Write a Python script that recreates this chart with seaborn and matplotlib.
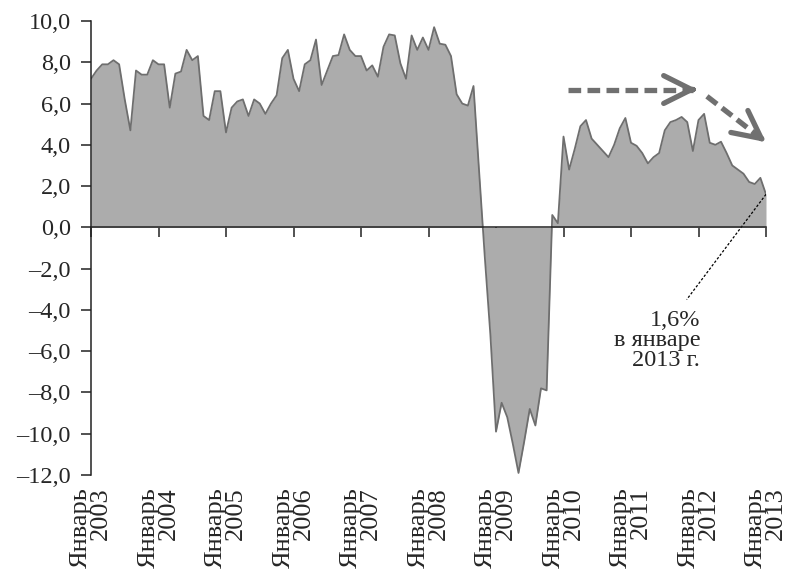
import numpy as np
import pandas as pd
import matplotlib
matplotlib.use("Agg")
import matplotlib.pyplot as plt
import seaborn as sns

# Monthly values, January 2003 .. January 2013 (121 points)
values = [
    7.2, 7.6, 7.9, 7.9, 8.1, 7.9, 6.2, 4.7, 7.6, 7.4, 7.4, 8.1,   # 2003
    7.9, 7.9, 5.8, 7.45, 7.55, 8.6, 8.1, 8.3, 5.4, 5.2, 6.6, 6.6,  # 2004
    4.6, 5.8, 6.1, 6.2, 5.4, 6.2, 6.0, 5.5, 6.0, 6.4, 8.2, 8.6,    # 2005
    7.2, 6.6, 7.9, 8.1, 9.1, 6.9, 7.6, 8.3, 8.35, 9.35, 8.6, 8.3,  # 2006
    8.3, 7.6, 7.85, 7.3, 8.75, 9.35, 9.3, 7.95, 7.2, 9.3, 8.6, 9.2,  # 2007
    8.6, 9.7, 8.9, 8.85, 8.3, 6.45, 6.0, 5.9, 6.85, 2.7, -1.4, -5.2,  # 2008
    -9.9, -8.5, -9.2, -10.5, -11.9, -10.4, -8.8, -9.6, -7.8, -7.9, 0.6, 0.2,  # 2009
    4.4, 2.8, 3.8, 4.9, 5.2, 4.3, 4.0, 3.7, 3.4, 4.0, 4.8, 5.3,    # 2010
    4.1, 3.95, 3.6, 3.1, 3.4, 3.6, 4.7, 5.1, 5.2, 5.35, 5.1, 3.7,  # 2011
    5.2, 5.5, 4.1, 4.0, 4.15, 3.6, 3.0, 2.8, 2.6, 2.2, 2.1, 2.4,   # 2012
    1.6,                                                           # 2013
]
years = list(range(2003, 2014))
tick_labels = [f"Январь\n{y}" for y in years]
note_text = "1,6%\nв январе\n2013 г."

df = pd.DataFrame({"month": np.arange(len(values)), "value": values})

sns.set_style("ticks")
plt.rcParams["font.family"] = ["Liberation Serif", "DejaVu Serif"]
plt.rcParams["font.size"] = 17.5

fill_col = "#acacac"
edge_col = "#6e6e6e"
axis_col = "#222222"

fig = plt.figure(figsize=(7.87, 5.70), dpi=100)
ax = fig.add_axes([91 / 787, 1 - 475 / 570, (766 - 91) / 787, (475 - 21) / 570])

ax.fill_between(df["month"], df["value"], 0, color=fill_col, linewidth=0)
sns.lineplot(data=df, x="month", y="value", ax=ax, color=edge_col, lw=1.3)

ax.set_xlim(0, 120)
ax.set_ylim(-12, 10)
ax.set_xlabel("")
ax.set_ylabel("")

# y axis
yt = np.arange(-12, 11, 2)
ax.set_yticks(yt)
ax.set_yticklabels([f"{v:.1f}".replace(".", ",").replace("-", "\u2013") for v in yt])
ax.tick_params(axis="y", length=7.5, width=1.1, color=axis_col, pad=7, labelsize=17.5)

# x axis line on zero with ticks, labels at the bottom
ax.spines["bottom"].set_position(("data", 0))
ax.spines["top"].set_visible(False)
ax.spines["right"].set_visible(False)
for s in ("left", "bottom"):
    ax.spines[s].set_linewidth(1.1)
    ax.spines[s].set_color(axis_col)
xt = np.arange(0, 121, 12)
ax.set_xticks(xt)
ax.tick_params(axis="x", length=7.5, width=1.1, color=axis_col, labelbottom=False)

sec = ax.secondary_xaxis("bottom")
sec.set_xticks(xt)
sec.set_xticklabels(tick_labels, rotation=90, ha="center", va="top",
                    multialignment="right", linespacing=0.88)
sec.tick_params(length=0, pad=9, labelsize=19)
sec.spines["bottom"].set_visible(False)

# dashed trend arrows
arrow_col = "#707070"
head = dict(arrowstyle="->,head_length=2.0,head_width=1.0", color=arrow_col,
            lw=3.8, mutation_scale=10, shrinkA=0, shrinkB=0)

a1_x, a1_y = [84.8, 107.8], [6.68, 6.68]
ax.plot([a1_x[0], a1_x[1] - 0.8], a1_y, color=arrow_col, lw=3.8,
        ls=(0, (2.4, 1.2)), dash_capstyle="butt")
ax.annotate("", xy=(a1_x[1], a1_y[1]), xytext=(a1_x[1] - 1.0, a1_y[1]), arrowprops=head)

a2_x, a2_y = [109.5, 120.0], [6.35, 4.13]
f = 0.92
ax.plot([a2_x[0], a2_x[0] + f * (a2_x[1] - a2_x[0])],
        [a2_y[0], a2_y[0] + f * (a2_y[1] - a2_y[0])],
        color=arrow_col, lw=3.8, ls=(0, (2.4, 1.2)), dash_capstyle="butt")
g = 0.1
ax.annotate("", xy=(a2_x[1], a2_y[1]),
            xytext=(a2_x[1] - g * (a2_x[1] - a2_x[0]), a2_y[1] - g * (a2_y[1] - a2_y[0])),
            arrowprops=head)

# leader line and note
ax.plot([120, 105.9], [values[-1], -3.5], color="black", lw=0.9, ls=(0, (2, 1.5)))
ax.text(108.3, -4.0, note_text, ha="right", va="top", multialignment="right",
        linespacing=0.95, fontsize=17.5)

fig.savefig("out.png", dpi=100)
